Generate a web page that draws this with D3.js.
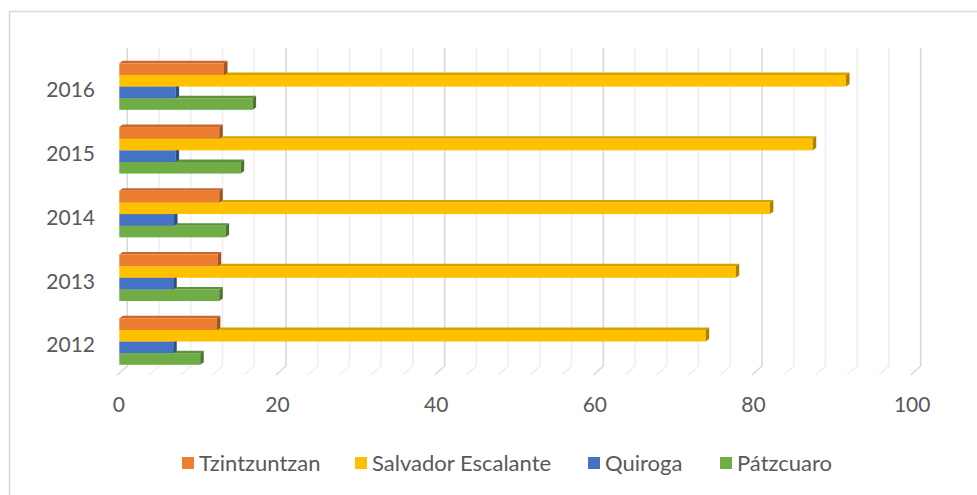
<!DOCTYPE html>
<html>
<head>
<meta charset="utf-8">
<script src="https://cdn.jsdelivr.net/npm/d3@7"></script>
<style>
  body { margin: 0; background: #fff; }
  svg { display: block; font-family: Lato, "Open Sans", sans-serif; }
</style>
</head>
<body>
<div id="chart"></div>
<script>
// categories, top to bottom as drawn
const years = ['2016', '2015', '2014', '2013', '2012'];
// series names in legend order (top bar of each group first)
const seriesNames = ['Tzintzuntzan', 'Salvador Escalante', 'Quiroga', 'Pátzcuaro'];
// values per series, same order as years
const tzintzuntzan = [13.2, 12.6, 12.6, 12.4, 12.3];
const salvadorEscalante = [91.6, 87.4, 82.0, 77.7, 73.9];
const quiroga = [7.1, 7.1, 6.9, 6.8, 6.8];
const patzcuaro = [16.8, 15.3, 13.4, 12.6, 10.2];
const xTicks = [0, 20, 40, 60, 80, 100];

const seriesValues = [tzintzuntzan, salvadorEscalante, quiroga, patzcuaro];
const colors = ['#ED7D31', '#FFC000', '#4472C4', '#70AD47'];

const width = 977, height = 495;
const dx = 3.5, dy = -2.5;  // depth offset of the 3d bars

const svg = d3.select('#chart').append('svg')
  .attr('width', width).attr('height', height);

// chart border
svg.append('rect')
  .attr('x', 9.5).attr('y', 11.5)
  .attr('width', 980).attr('height', 500)
  .attr('fill', '#fff').attr('stroke', '#d9d9d9').attr('stroke-width', 1.5);

const x = d3.scaleLinear().domain([0, 100]).range([119.3, 912.7]);
const y = d3.scaleBand().domain(years).range([54.7, 373.4])
  .paddingInner(0.27).paddingOuter(0.135);
const barH = y.bandwidth() / seriesNames.length;

// back wall gridlines plus the slanted floor part
const grid = svg.append('g');
const minor = d3.range(0, 101, 4);
grid.selectAll('path')
  .data(minor)
  .join('path')
  .attr('d', d => {
    const xb = x(d) + 8, xf = x(d) - 2;
    return `M${xb},48 L${xb},366 L${xf},375`;
  })
  .attr('fill', 'none')
  .attr('stroke', d => d % 20 === 0 ? '#d9d9d9' : '#efefef')
  .attr('stroke-width', 1.6);

// flatten to one record per bar, drawn bottom bar first
const bars = [];
years.forEach((yr, i) => {
  for (let s = seriesNames.length - 1; s >= 0; s--) {
    bars.push({ year: yr, s: s, value: seriesValues[s][i] });
  }
});

const barG = svg.append('g');
const bar = barG.selectAll('g.bar')
  .data(bars)
  .join('g')
  .attr('class', 'bar');

function y0(d) { return y(d.year) + d.s * barH; }

// top face
bar.append('path')
  .attr('d', d => {
    const a = x(0), b = x(d.value), t = y0(d);
    return `M${a},${t} L${b},${t} L${b + dx},${t + dy} L${a + dx},${t + dy} Z`;
  })
  .attr('fill', d => d3.color(colors[d.s]).darker(0.5));

// front face
bar.append('rect')
  .attr('x', x(0))
  .attr('y', d => y0(d))
  .attr('width', d => x(d.value) - x(0))
  .attr('height', barH)
  .attr('fill', d => colors[d.s]);

// side face
bar.append('path')
  .attr('d', d => {
    const b = x(d.value), t = y0(d);
    return `M${b},${t} L${b + dx},${t + dy} L${b + dx},${t + barH + dy} L${b},${t + barH} Z`;
  })
  .attr('fill', d => d3.color(colors[d.s]).darker(1.1));

// axes
const xAxis = svg.append('g')
  .attr('transform', 'translate(-1,397)')
  .call(d3.axisBottom(x).tickValues(xTicks).tickSize(0).tickPadding(0));
const yAxis = svg.append('g')
  .attr('transform', 'translate(95,4)')
  .call(d3.axisLeft(y).tickSize(0).tickPadding(0));
[xAxis, yAxis].forEach(g => {
  g.select('.domain').remove();
  g.selectAll('text')
    .attr('font-family', 'Lato, sans-serif')
    .attr('font-size', 21)
    .attr('fill', '#595959');
});

// legend
const legendX = [182, 355, 588, 720];
const legend = svg.append('g').selectAll('g')
  .data(seriesNames)
  .join('g')
  .attr('transform', (d, i) => `translate(${legendX[i]},457)`);
legend.append('rect')
  .attr('width', 12).attr('height', 12)
  .attr('fill', (d, i) => colors[i]);
legend.append('text')
  .attr('x', 17).attr('y', 6)
  .attr('dy', '0.35em')
  .attr('font-size', 22)
  .attr('fill', '#595959')
  .text(d => d);
</script>
</body>
</html>
